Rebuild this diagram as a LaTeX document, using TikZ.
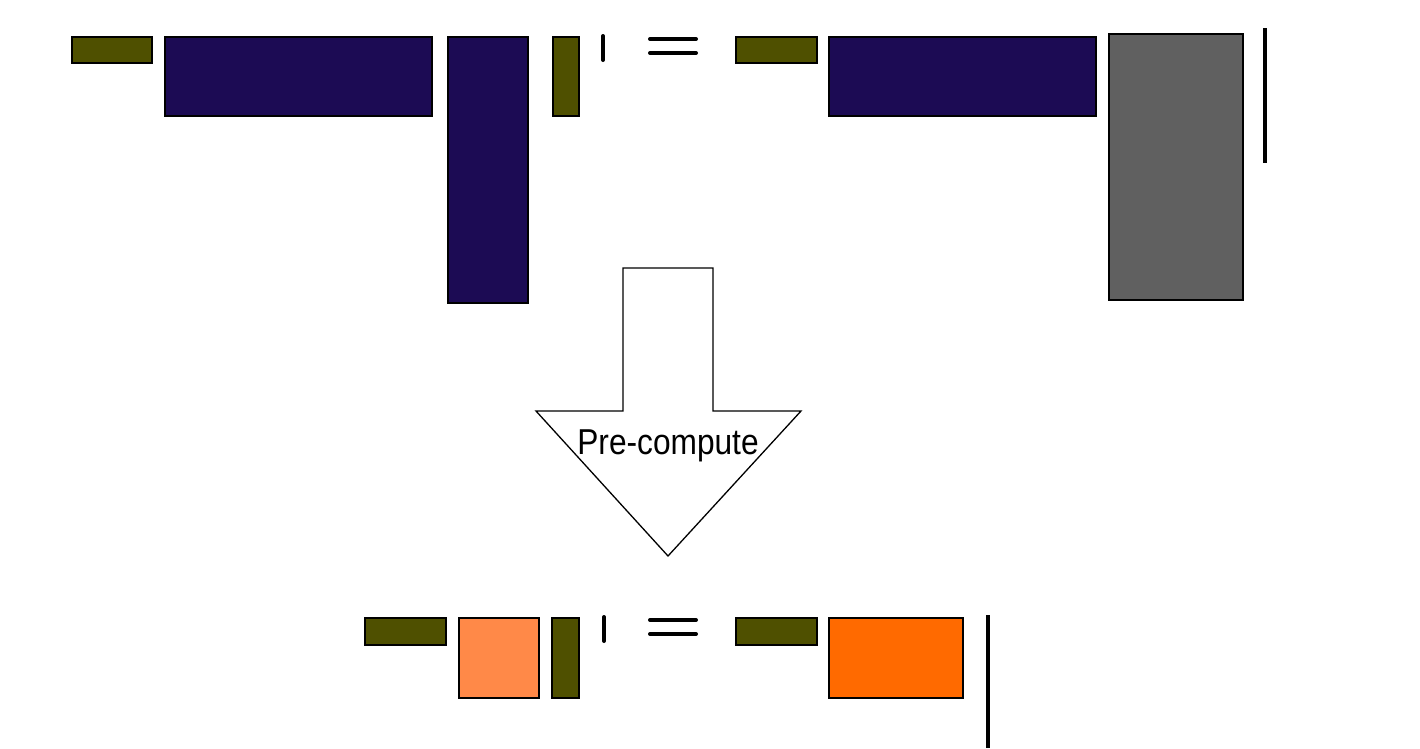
\documentclass[tikz,border=0pt]{standalone}
\usepackage{fontspec}
\setmainfont{Liberation Sans}
\definecolor{olivec}{RGB}{79,80,0}
\definecolor{navyc}{RGB}{28,11,84}
\definecolor{grayc}{RGB}{96,96,96}
\definecolor{lorange}{RGB}{255,137,72}
\definecolor{dorange}{RGB}{255,106,0}
\tikzset{
  blk/.style={draw=black, line width=1.3pt, inner sep=0pt, outer sep=0pt, anchor=north west},
  olivebox/.style={blk, fill=olivec},
  navybox/.style={blk, fill=navyc},
  graybox/.style={blk, fill=grayc},
  lorangebox/.style={blk, fill=lorange},
  dorangebox/.style={blk, fill=dorange},
  tickmark/.style={line width=4pt, line cap=round},
  barline/.style={line width=4pt},
  bigarrow/.style={draw=black, line width=1.3pt, fill=white, line join=miter}
}
\begin{document}
\begin{tikzpicture}[x=1pt,y=-1pt]
\useasboundingbox (0,0) rectangle (1420,748);
% top row
\node[olivebox, minimum width=80pt, minimum height=26pt] (o1) at (72,37) {};
\node[navybox, minimum width=267pt, minimum height=79pt] (b1) at (165,37) {};
\node[navybox, minimum width=80pt, minimum height=266pt] (b2) at (448,37) {};
\node[olivebox, minimum width=26pt, minimum height=79pt] (o2) at (553,37) {};
\draw[tickmark] (603,36) -- (603,60);
\draw[tickmark] (650,39) -- (696,39);
\draw[tickmark] (650,53) -- (696,53);
\node[olivebox, minimum width=81pt, minimum height=26pt] (o3) at (736,37) {};
\node[navybox, minimum width=267pt, minimum height=79pt] (b3) at (829,37) {};
\node[graybox, minimum width=134pt, minimum height=266pt] (g1) at (1109,34) {};
\draw[barline] (1265,28) -- (1265,163);
% arrow
\draw[bigarrow] (623,268) -- (713,268) -- (713,411) -- (801,411) -- (668,556) -- (536,411) -- (623,411) -- cycle;
\node[anchor=base, inner sep=0pt, xscale=0.88, font=\fontsize{36}{42}\selectfont] (lbl) at (668,454) {Pre-compute};
% bottom row
\node[olivebox, minimum width=81pt, minimum height=27pt] (o4) at (365,618) {};
\node[lorangebox, minimum width=80pt, minimum height=80pt] (l1) at (459,618) {};
\node[olivebox, minimum width=27pt, minimum height=80pt] (o5) at (552,618) {};
\draw[tickmark] (604,617) -- (604,641);
\draw[tickmark] (650,620) -- (696,620);
\draw[tickmark] (650,634) -- (696,634);
\node[olivebox, minimum width=81pt, minimum height=27pt] (o6) at (736,618) {};
\node[dorangebox, minimum width=134pt, minimum height=80pt] (r1) at (829,618) {};
\draw[barline] (988,615) -- (988,748);
\end{tikzpicture}
\end{document}
